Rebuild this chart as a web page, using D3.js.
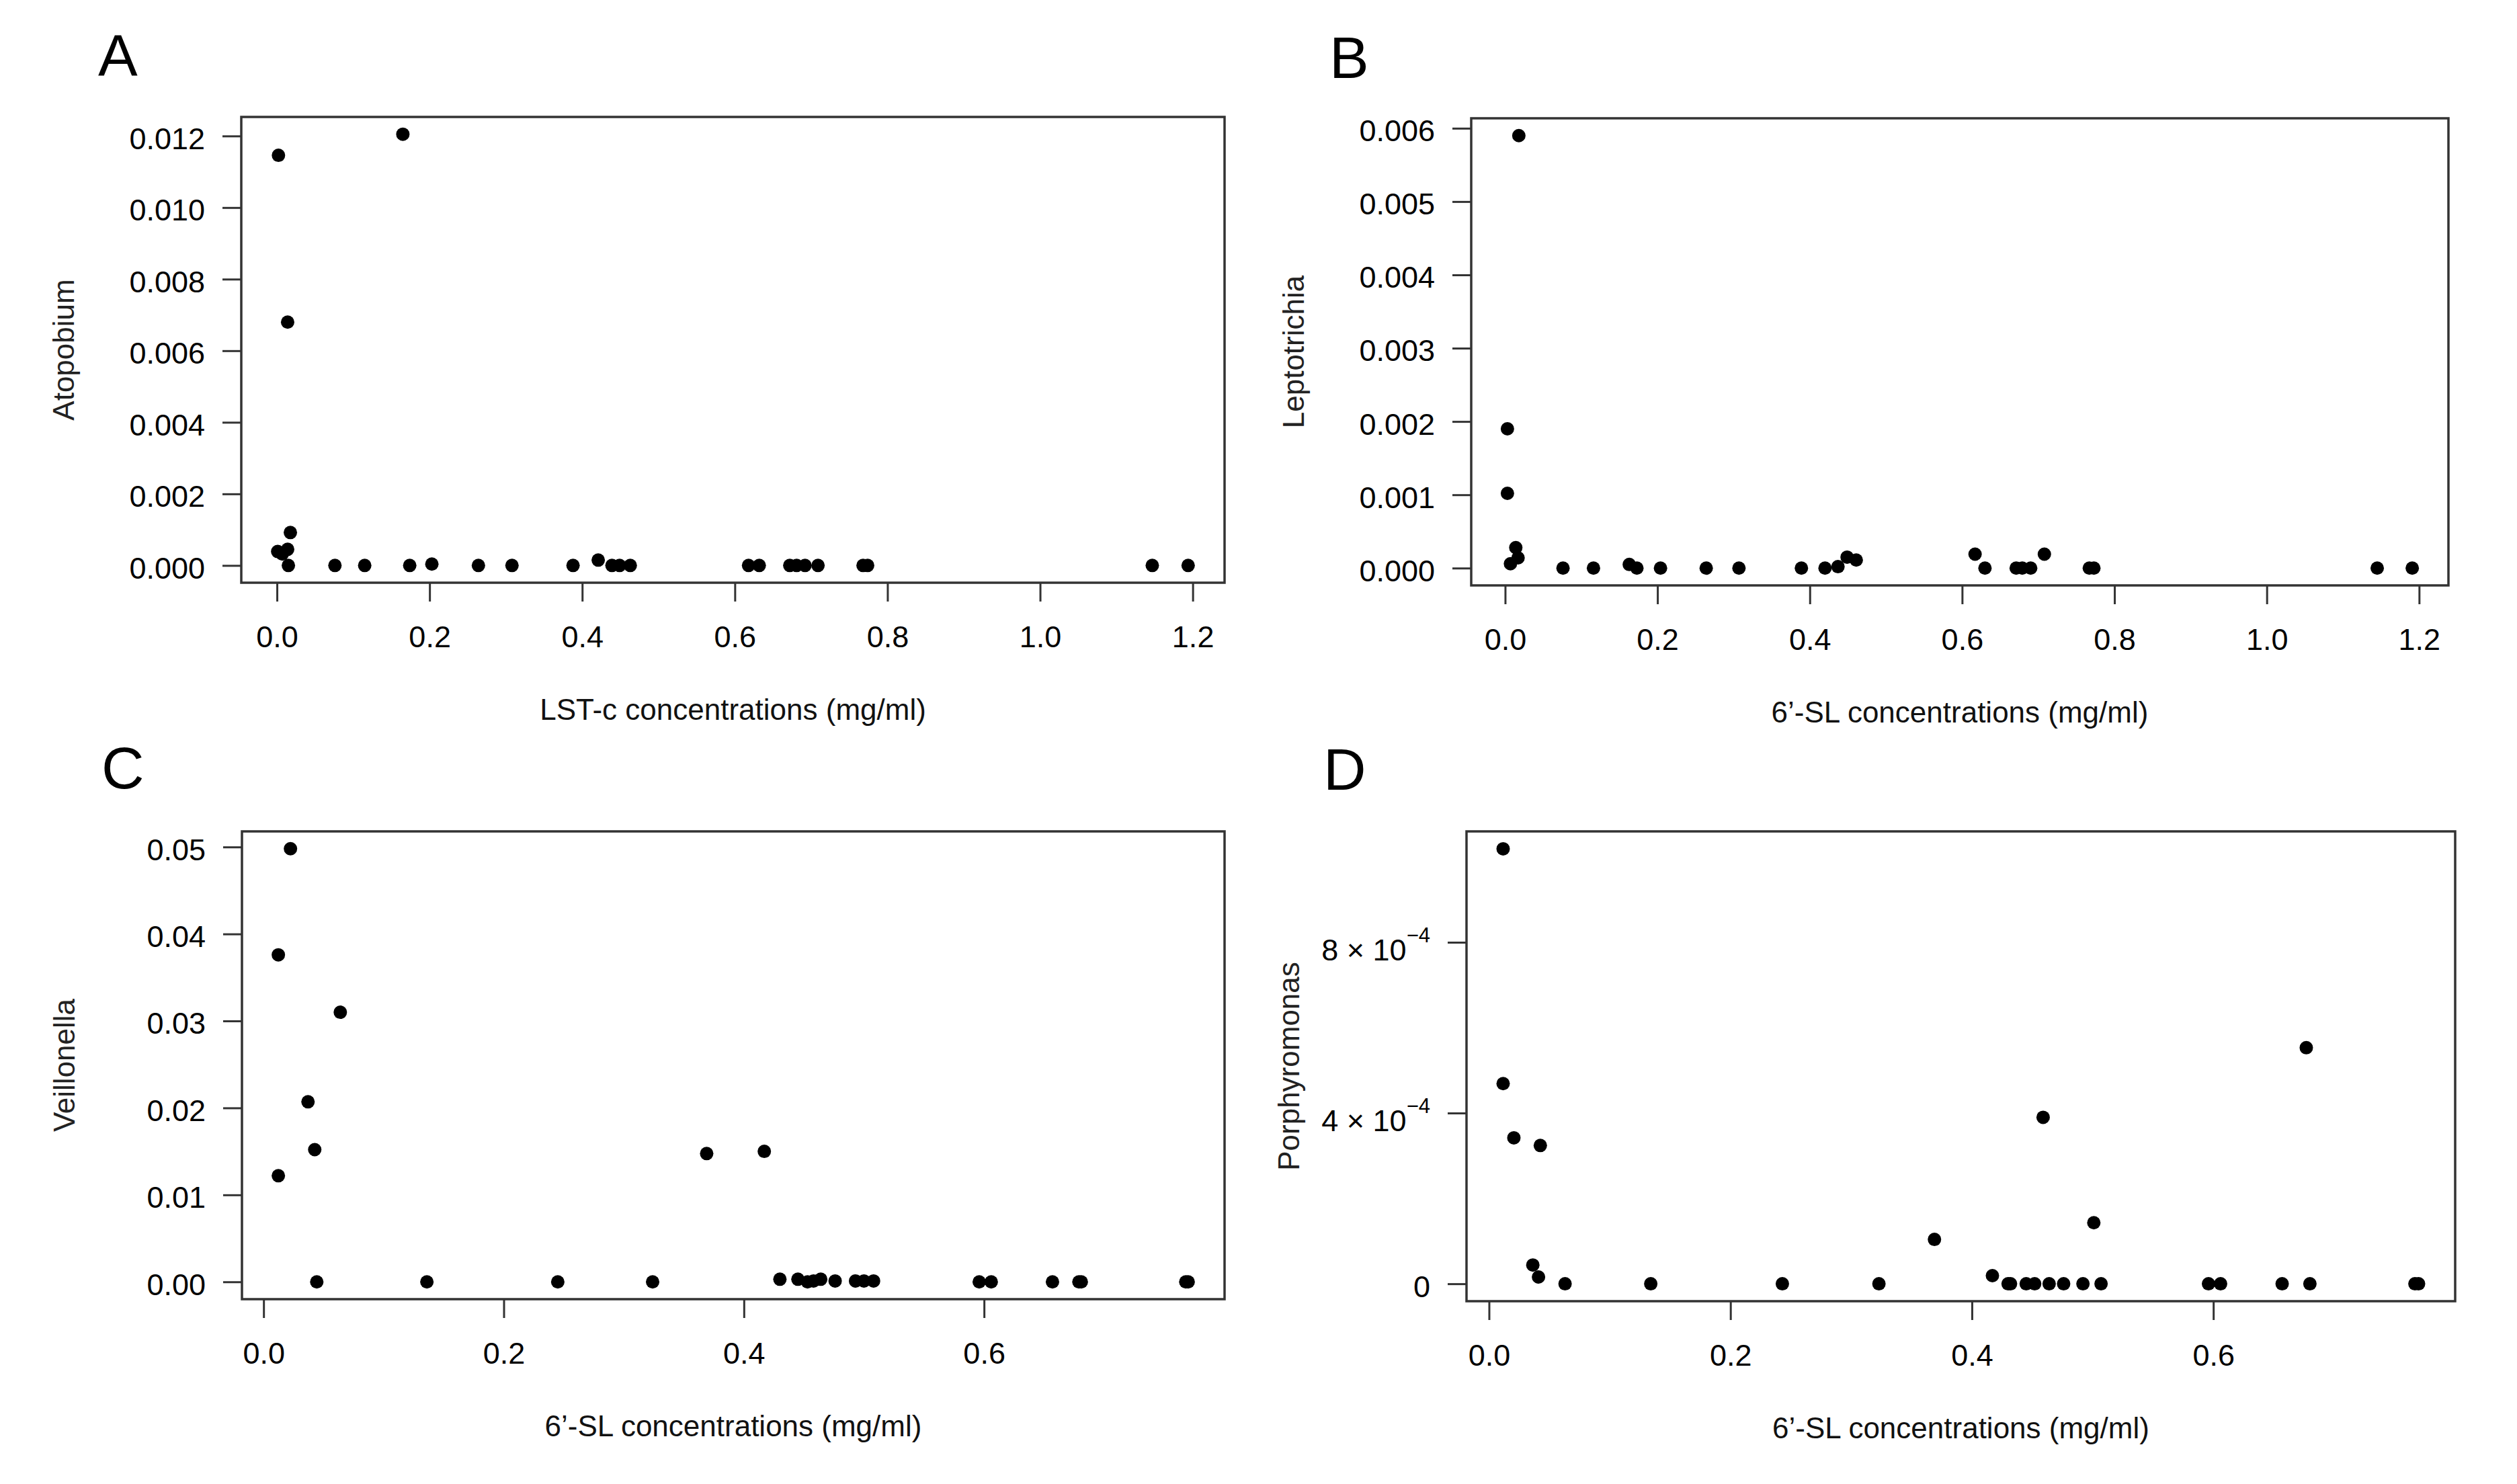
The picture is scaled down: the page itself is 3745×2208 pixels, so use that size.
<!DOCTYPE html>
<html>
<head>
<meta charset="utf-8">
<script src="https://cdn.jsdelivr.net/npm/d3@7"></script>
<style>
	body { margin: 0; background: white; }
</style>
</head>
<body>
<div id="viz"></div>
<script>

// Panel A: Atopobium vs LST-c
var atopobiumConc = [0.002, 0.001, 0.007, 0.014, 0.014, 0.0176, 0.015, 0.165, 0.076, 0.115, 0.174, 0.203, 0.264, 0.308, 0.388, 0.421, 0.439, 0.449, 0.463, 0.618, 0.632, 0.672, 0.681, 0.692, 0.709, 0.768, 0.774, 1.147, 1.194];
var atopobiumAbund = [0.01146, 0.00039, 0.00032, 0.00045, 0.0068, 0.00092, 0, 0.01205, 0, 0, 0, 0.00004, 0, 0, 0, 0.00015, 0, 0, 0, 0, 0, 0, 0, 0, 0, 0, 0, 0, 0];

// Panel B: Leptotrichia vs 6'-SL
var leptoConc = [0.018, 0.003, 0.003, 0.014, 0.017, 0.007, 0.076, 0.116, 0.163, 0.173, 0.204, 0.264, 0.307, 0.389, 0.420, 0.437, 0.449, 0.461, 0.617, 0.630, 0.671, 0.679, 0.690, 0.708, 0.767, 0.773, 1.145, 1.191];
var leptoAbund = [0.0059, 0.0019, 0.00102, 0.00028, 0.00014, 0.00006, 0, 0, 0.00005, 0, 0, 0, 0, 0, 0, 0.00002, 0.00015, 0.00011, 0.00019, 0, 0, 0, 0, 0.00019, 0, 0, 0, 0];

// Panel C: Veillonella vs 6'-SL
var veillConc = [0.0224, 0.0123, 0.0639, 0.037, 0.0426, 0.0123, 0.0443, 0.136, 0.245, 0.324, 0.369, 0.417, 0.430, 0.445, 0.453, 0.458, 0.464, 0.476, 0.493, 0.500, 0.508, 0.596, 0.606, 0.657, 0.679, 0.681, 0.768, 0.770];
var veillAbund = [0.0498, 0.0376, 0.0310, 0.0207, 0.0152, 0.0122, 0, 0, 0, 0, 0.01475, 0.0150, 0.0003, 0.0003, 0, 0.0001, 0.0003, 0.0001, 0.0001, 0.0001, 0.0001, 0, 0, 0, 0, 0, 0, 0];

// Panel D: Porphyromonas vs 6'-SL
var porphConc = [0.0117, 0.0117, 0.0206, 0.0425, 0.0363, 0.041, 0.063, 0.134, 0.243, 0.323, 0.369, 0.417, 0.430, 0.432, 0.445, 0.452, 0.459, 0.464, 0.476, 0.492, 0.501, 0.507, 0.596, 0.606, 0.657, 0.677, 0.680, 0.767, 0.770];
var porphAbund = [0.001019, 0.000469, 0.000342, 0.000324, 0.000044, 0.000016, 0, 0, 0, 0, 0.000104, 0.000019, 0, 0, 0, 0, 0.00039, 0, 0, 0, 0.000143, 0, 0, 0, 0, 0.000553, 0, 0, 0];

// Tick values and labels
var xTicksLong = [0, 0.2, 0.4, 0.6, 0.8, 1.0, 1.2];
var xTicksShort = [0, 0.2, 0.4, 0.6];
var xLabelsLong = ["0.0", "0.2", "0.4", "0.6", "0.8", "1.0", "1.2"];
var xLabelsShort = ["0.0", "0.2", "0.4", "0.6"];
var atopobiumTicks = [0, 0.002, 0.004, 0.006, 0.008, 0.010, 0.012];
var atopobiumLabels = ["0.000", "0.002", "0.004", "0.006", "0.008", "0.010", "0.012"];
var leptoTicks = [0, 0.001, 0.002, 0.003, 0.004, 0.005, 0.006];
var leptoLabels = ["0.000", "0.001", "0.002", "0.003", "0.004", "0.005", "0.006"];
var veillTicks = [0, 0.01, 0.02, 0.03, 0.04, 0.05];
var veillLabels = ["0.00", "0.01", "0.02", "0.03", "0.04", "0.05"];
var porphTicks = [0, 0.0004, 0.0008];
var porphLabels = ["0", "4 \u00d7 10^\u22124", "8 \u00d7 10^\u22124"];

// Titles
var panelLetters = ["A", "B", "C", "D"];
var yTitles = ["Atopobium", "Leptotrichia", "Veillonella", "Porphyromonas"];
var xTitles = ["LST-c concentrations (mg/ml)", "6\u2019-SL concentrations (mg/ml)", "6\u2019-SL concentrations (mg/ml)", "6\u2019-SL concentrations (mg/ml)"];

var width = 3745,
	height = 2208,
	fontFamily = "'Liberation Sans', Arial, Helvetica, sans-serif",
	lineColor = "#333",
	tickLength = 28;

var zip = (xs, ys) => xs.map((x, i) => ({x: x, y: ys[i]}));

// R style axis range: data extent padded by 4% on each side
var padExtent = (values) => {
	var ext = d3.extent(values),
		span = ext[1] - ext[0];
	return [ext[0] - 0.04 * span, ext[1] + 0.04 * span];
};

var panels = [
	{
		letter: panelLetters[0], letterX: 146, letterY: 113,
		box: {x0: 359, x1: 1822, y0: 174, y1: 867},
		points: zip(atopobiumConc, atopobiumAbund),
		xTicks: xTicksLong, xLabels: xLabelsLong,
		yTicks: atopobiumTicks, yLabels: atopobiumLabels,
		xTitle: xTitles[0], yTitle: yTitles[0]
	}, {
		letter: panelLetters[1], letterX: 1978, letterY: 116,
		box: {x0: 2189, x1: 3643, y0: 176, y1: 871},
		points: zip(leptoConc, leptoAbund),
		xTicks: xTicksLong, xLabels: xLabelsLong,
		yTicks: leptoTicks, yLabels: leptoLabels,
		xTitle: xTitles[1], yTitle: yTitles[1]
	}, {
		letter: panelLetters[2], letterX: 151, letterY: 1173,
		box: {x0: 360, x1: 1822, y0: 1237, y1: 1933},
		points: zip(veillConc, veillAbund),
		xTicks: xTicksShort, xLabels: xLabelsShort,
		yTicks: veillTicks, yLabels: veillLabels,
		xTitle: xTitles[2], yTitle: yTitles[2]
	}, {
		letter: panelLetters[3], letterX: 1969, letterY: 1175,
		box: {x0: 2182, x1: 3653, y0: 1237, y1: 1936},
		points: zip(porphConc, porphAbund),
		xTicks: xTicksShort, xLabels: xLabelsShort,
		yTicks: porphTicks, yLabels: porphLabels,
		xTitle: xTitles[3], yTitle: yTitles[3]
	}
];

// Append SVG
var svg = d3.select("#viz")
	.append("svg")
	.attr("width", width)
	.attr("height", height)
	.style("background-color", "white")
	.style("font-family", fontFamily);

var drawPanel = (p) => {
	var b = p.box;

	var x = d3.scaleLinear()
		.domain(padExtent(p.points.map(d => d.x)))
		.range([b.x0, b.x1]);
	var y = d3.scaleLinear()
		.domain(padExtent(p.points.map(d => d.y)))
		.range([b.y1, b.y0]);

	var g = svg.append("g");

	// Panel letter
	g.append("text")
		.attr("x", p.letterX)
		.attr("y", p.letterY)
		.style("font-size", "88px")
		.style("fill", "#000")
		.text(p.letter);

	// Bottom axis
	var xAxis = g.append("g")
		.attr("transform", `translate(0, ${b.y1})`)
		.call(d3.axisBottom(x)
			.tickValues(p.xTicks)
			.tickFormat((d, i) => p.xLabels[i])
			.tickSize(tickLength)
			.tickPadding(36));

	// Left axis
	var yAxis = g.append("g")
		.attr("transform", `translate(${b.x0}, 0)`)
		.call(d3.axisLeft(y)
			.tickValues(p.yTicks)
			.tickFormat((d, i) => p.yLabels[i])
			.tickSize(tickLength)
			.tickPadding(26));

	[xAxis, yAxis].forEach(a => {
		a.select(".domain").remove();
		a.selectAll(".tick line")
			.style("stroke", lineColor)
			.style("stroke-width", 3);
		a.selectAll(".tick text")
			.style("font-family", fontFamily)
			.style("font-size", "45px")
			.style("fill", "#000");
	});

	yAxis.selectAll(".tick text").attr("dy", "0.42em");

	// Labels written as "a × 10^b" get a superscript exponent
	yAxis.selectAll(".tick text")
		.filter((d, i) => p.yLabels[i].indexOf("^") >= 0)
		.each(function(d, i) {
			var parts = d3.select(this).text().split("^"),
				t = d3.select(this).text(null).attr("dy", "0.58em");
			t.append("tspan").text(parts[0]);
			t.append("tspan")
				.attr("dy", -27)
				.style("font-size", "31px")
				.text(parts[1]);
		});

	// Plot box
	g.append("rect")
		.attr("x", b.x0)
		.attr("y", b.y0)
		.attr("width", b.x1 - b.x0)
		.attr("height", b.y1 - b.y0)
		.style("fill", "none")
		.style("stroke", lineColor)
		.style("stroke-width", 3.5);

	// Points
	g.selectAll("circle")
		.data(p.points)
		.enter()
		.append("circle")
		.attr("cx", d => x(d.x))
		.attr("cy", d => y(d.y))
		.attr("r", 10)
		.style("fill", "#000");

	// Axis titles
	g.append("text")
		.attr("x", (b.x0 + b.x1) / 2)
		.attr("y", b.y1 + 204)
		.attr("text-anchor", "middle")
		.style("font-size", "44px")
		.style("fill", "#111")
		.text(p.xTitle);

	g.append("text")
		.attr("transform", `translate(${b.x0 - 249}, ${(b.y0 + b.y1) / 2}) rotate(-90)`)
		.attr("text-anchor", "middle")
		.style("font-size", "44px")
		.style("fill", "#222")
		.text(p.yTitle);
};

panels.forEach(drawPanel);

</script>
</body>
</html>
